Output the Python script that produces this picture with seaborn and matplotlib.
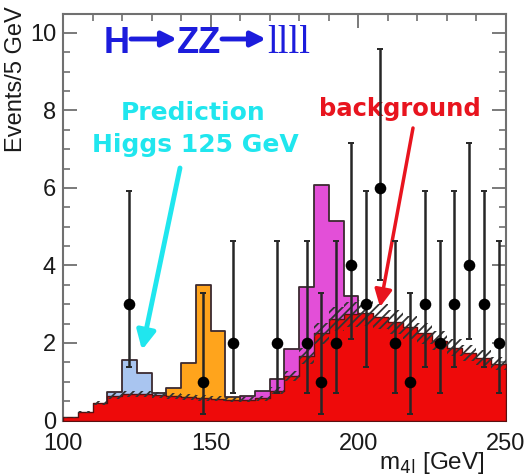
import numpy as np
import pandas as pd
import matplotlib
matplotlib.use("Agg")
import matplotlib.pyplot as plt
from matplotlib.ticker import MultipleLocator
import seaborn as sns

# ---------------- data ----------------
bin_edges = np.arange(100, 255, 5)
bin_centers = bin_edges[:-1] + 2.5

background = [0.08, 0.21, 0.45, 0.64, 0.69, 0.69, 0.66, 0.63, 0.60, 0.58,
              0.56, 0.54, 0.53, 0.57, 0.77, 1.15, 1.66, 2.25, 2.62, 2.74,
              2.77, 2.68, 2.54, 2.40, 2.25, 2.06, 1.88, 1.75, 1.62, 1.47]
signal_125 = [0, 0, 0, 0.10, 0.86, 0.53, 0.05, 0, 0, 0,
              0, 0, 0, 0, 0, 0, 0, 0, 0, 0,
              0, 0, 0, 0, 0, 0, 0, 0, 0, 0]
signal_150 = [0, 0, 0, 0, 0, 0, 0.03, 0.22, 0.88, 2.91,
              1.74, 0.06, 0, 0, 0, 0, 0, 0, 0, 0,
              0, 0, 0, 0, 0, 0, 0, 0, 0, 0]
signal_190 = [0, 0, 0, 0, 0, 0, 0, 0, 0, 0,
              0, 0, 0.10, 0.20, 0.29, 0.70, 1.79, 3.83, 2.53, 0.46,
              0, 0, 0, 0, 0, 0, 0, 0, 0, 0]
bkg_unc_frac = 0.12

data_mass = [122.5, 147.5, 157.5, 172.5, 182.5, 187.5, 192.5, 197.5, 202.5,
             207.5, 212.5, 217.5, 222.5, 227.5, 232.5, 237.5, 242.5, 247.5]
data_events = [3, 1, 2, 2, 2, 1, 2, 4, 3, 6, 2, 1, 3, 2, 3, 4, 3, 2]
data_low = [1.37, 0.17, 0.71, 0.71, 0.71, 0.17, 0.71, 2.09, 1.37,
            3.62, 0.71, 0.17, 1.37, 0.71, 1.37, 2.09, 1.37, 0.71]
data_high = [5.92, 3.30, 4.64, 4.64, 4.64, 3.30, 4.64, 7.16, 5.92,
             9.58, 4.64, 3.30, 5.92, 4.64, 5.92, 7.16, 5.92, 4.64]

x_ticks = [100, 150, 200, 250]
y_ticks = [0, 2, 4, 6, 8, 10]

# ---------------- style ----------------
sns.set_style("ticks")
plt.rcParams["font.family"] = ["Liberation Sans", "DejaVu Sans"]
plt.rcParams["hatch.linewidth"] = 1.3

fig = plt.figure(figsize=(5.28, 4.76), dpi=100)
W, H = 528, 476
ax = fig.add_axes([63 / W, 55.5 / H, 443 / W, 407 / H])

bkg = np.array(background)
edge_dark = "#3b2a30"

def draw_hist(values, color, edgecolor, lw, z):
    df = pd.DataFrame({"mass": bin_centers, "w": values})
    sns.histplot(data=df, x="mass", weights="w", binwidth=5,
                 binrange=(100, 250), element="step", fill=True,
                 color=color, alpha=1, edgecolor=edgecolor, linewidth=lw,
                 ax=ax, zorder=z)

def draw_total(sig, color):
    sig = np.array(sig)
    total = np.where(sig > 0, bkg + sig, 0.0)
    draw_hist(total, color, edge_dark, 1.3, 2)

draw_total(signal_190, "#e34fd8")
draw_total(signal_150, "#ffa41c")
draw_total(signal_125, "#a9c5f0")
draw_hist(bkg, "#ee0a0a", "#5a1010", 1.0, 3)

# uncertainty band (hatched)
lo = bkg * (1 - bkg_unc_frac)
hi = bkg * (1 + bkg_unc_frac)
ax.fill_between(bin_edges, np.r_[lo, lo[-1]], np.r_[hi, hi[-1]], step="post",
                facecolor="none", edgecolor="#333333", hatch="////",
                linewidth=0, zorder=4)

# data points
dm = np.array(data_mass)
dn = np.array(data_events)
yerr = [dn - np.array(data_low), np.array(data_high) - dn]
ax.errorbar(dm, dn, yerr=yerr, fmt="none", ecolor="#262626", elinewidth=1.8,
            capsize=2.5, capthick=1.4, zorder=5)
sns.scatterplot(x=dm, y=dn, color="black", s=70, edgecolor="black",
                linewidth=0, ax=ax, zorder=6)

# axes
ax.set_xlim(100, 250)
ax.set_ylim(0, 10.5)
ax.set_xticks(x_ticks)
ax.set_yticks(y_ticks)
ax.xaxis.set_minor_locator(MultipleLocator(10))
ax.yaxis.set_minor_locator(MultipleLocator(0.5))
ax.tick_params(which="both", direction="in", top=True, right=True,
               color="#707070", labelsize=17, labelcolor="#1a1a1a")
ax.tick_params(which="major", length=10, width=1.3, pad=5)
ax.tick_params(axis="x", which="major", pad=9)
ax.tick_params(which="minor", length=5, width=1.2)
for s in ax.spines.values():
    s.set_color("#707070")
    s.set_linewidth(1.5)
ax.set_xlabel("")
ax.set_ylabel("")

fig.text(16 / W, 1 - 6 / H, "Events/5 GeV", rotation=90, ha="center",
         va="top", fontsize=17, color="#1a1a1a")
fig.text(485 / W, 1 - 469 / H, r"m$_{\mathrm{4l}}$ [GeV]", ha="right",
         va="baseline", fontsize=17.5, color="#1a1a1a")

# title-like label
blue = "#1c1cdc"
ax.annotate("H", xy=(104, H - 53), xycoords="figure pixels", ha="left",
            va="baseline", fontsize=26, fontweight="bold", color=blue)
ax.annotate("ZZ", xy=(177, H - 53), xycoords="figure pixels", ha="left",
            va="baseline", fontsize=26, fontweight="bold", color=blue)
ax.annotate("llll", xy=(267, H - 53), xycoords="figure pixels", ha="left",
            va="baseline", fontsize=28, color=blue, family="Liberation Serif")
for x0, x1 in [(131, 177), (222, 266)]:
    ax.annotate("", xy=(x1, H - 39), xytext=(x0, H - 39),
                xycoords="figure pixels", textcoords="figure pixels",
                arrowprops=dict(arrowstyle="-|>", color=blue, lw=3.5,
                                mutation_scale=22, shrinkA=0, shrinkB=0))

cyan = "#20e6ee"
ax.annotate("Prediction", xy=(193, H - 120), xycoords="figure pixels",
            ha="center", va="baseline", fontsize=18, fontweight="bold",
            color=cyan, family="DejaVu Sans")
ax.annotate("Higgs 125 GeV", xy=(195, H - 152), xycoords="figure pixels",
            ha="center", va="baseline", fontsize=18, fontweight="bold",
            color=cyan, family="DejaVu Sans")
ax.annotate("", xy=(142, H - 350), xytext=(180, H - 168),
            xycoords="figure pixels", textcoords="figure pixels",
            arrowprops=dict(arrowstyle="-|>", color=cyan, lw=3.5,
                            mutation_scale=28, shrinkA=0, shrinkB=0))

red = "#e8141e"
ax.annotate("background", xy=(400, H - 116), xycoords="figure pixels",
            ha="center", va="baseline", fontsize=17.5, fontweight="bold",
            color=red, family="DejaVu Sans")
ax.annotate("", xy=(380, H - 307), xytext=(413, H - 128),
            xycoords="figure pixels", textcoords="figure pixels",
            arrowprops=dict(arrowstyle="-|>", color=red, lw=2.5,
                            mutation_scale=26, shrinkA=0, shrinkB=0))

fig.savefig("out.png", dpi=100)
